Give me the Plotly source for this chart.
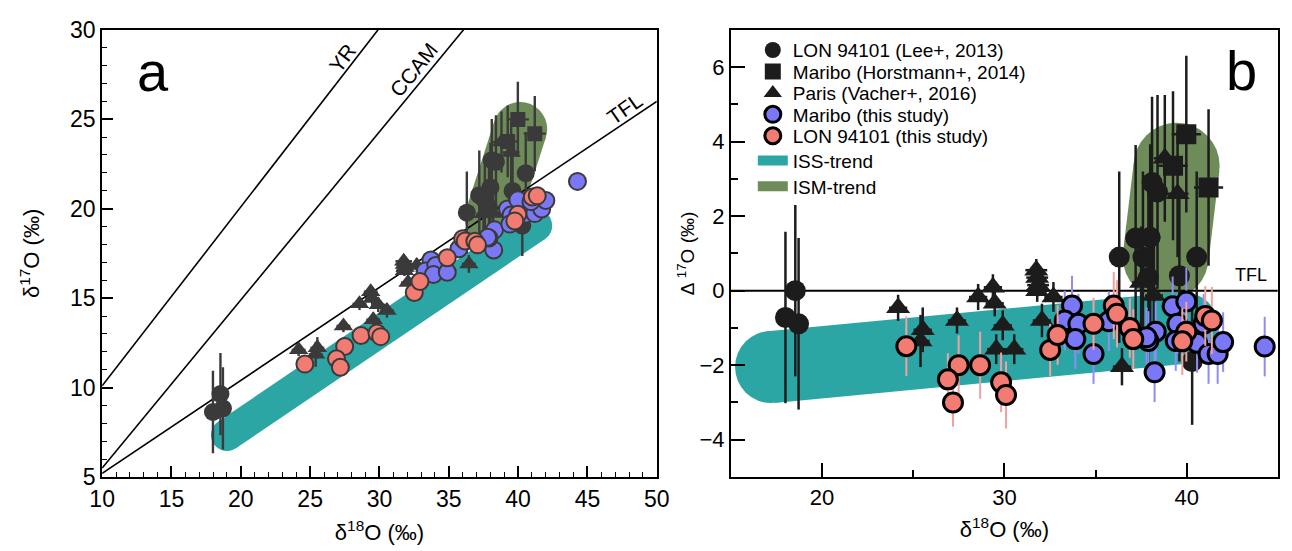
import plotly.graph_objects as go

# ---------------- data ----------------
# delta18O (permil) and Delta17O (permil) for each dataset
lee_d18 = [17.99, 18.53, 18.71, 36.30, 37.20, 38.00, 38.10, 38.40, 40.55, 39.60, 37.60, 37.90, 40.30]
lee_D17 = [-0.72, 0.00, -0.89, 0.90, 1.41, 1.43, 2.90, 2.65, 0.90, 0.40, 0.90, 0.35, -1.90]
lee_D17_err = [2.3, 2.3, 2.3, 2.3, 2.5, 2.5, 2.3, 2.6, 2.3, 2.3, 2.3, 2.5, 1.7]
lee_d18_err = [0.5, 0.5, 0.5, 0.5, 0.5, 0.5, 0.5, 0.5, 0.5, 0.5, 0.5, 0.5, 0.5]

hor_d18 = [39.98, 41.20, 39.25]
hor_D17 = [4.20, 2.77, 3.35]
hor_D17_err = [2.1, 2.1, 2.0]
hor_d18_err = [0.8, 0.8, 0.8]

vac_d18 = [24.17, 25.52, 25.40, 27.40, 28.56, 29.37, 29.47, 29.91, 29.55, 30.54,
           31.75, 31.80, 31.85, 31.80, 32.69, 32.06, 36.45, 38.80, 39.50, 37.50, 38.20]
vac_D17 = [-0.46, -1.05, -1.35, -0.80, -0.17, 0.09, -0.34, -0.93, -1.57, -1.57,
           0.55, 0.35, 0.15, 0.00, -0.17, -0.80, -2.04, 3.55, 2.60, 0.22, -0.13]
vac_D17_err = [0.35, 0.6, 0.7, 0.35, 0.35, 0.35, 0.35, 0.4, 0.4, 0.4,
               0.3, 0.3, 0.3, 0.3, 0.4, 0.45, 0.5, 1.7, 1.7, 1.5, 1.5]
vac_d18_err = [0.5, 0.5, 0.5, 0.5, 0.5, 0.5, 0.5, 0.5, 0.5, 0.5,
               0.6, 0.6, 0.6, 0.6, 0.5, 0.5, 0.5, 0.6, 0.6, 0.5, 0.5]

mar_d18 = [33.71, 33.31, 34.06, 33.89, 34.89, 35.73, 38.30, 38.24, 37.90, 39.23,
           39.98, 39.49, 39.40, 37.80, 40.57, 41.20, 41.70, 42.00, 44.28, 40.93]
mar_D17 = [-0.40, -0.80, -0.89, -1.30, -1.70, -0.82, -1.10, -2.19, -1.35, -0.42,
           -0.29, -0.89, -1.35, -1.25, -1.40, -1.70, -1.70, -1.38, -1.50, -0.89]
mar_D17_err = [0.8, 0.8, 0.8, 0.8, 0.8, 0.8, 0.8, 0.8, 0.8, 0.8,
               0.9, 0.8, 0.8, 0.8, 0.8, 0.8, 0.8, 0.8, 0.8, 0.8]

lon_d18 = [24.62, 27.49, 26.90, 27.18, 28.67, 29.82, 30.09, 32.51, 32.92, 34.89,
           36.00, 36.18, 36.88, 37.07, 39.98, 39.76, 41.02, 41.38]
lon_D17 = [-1.49, -2.00, -2.38, -3.00, -2.00, -2.46, -2.80, -1.59, -1.19, -0.89,
           -0.40, -0.62, -1.00, -1.30, -1.10, -1.36, -0.68, -0.80]
lon_D17_err = [0.8, 0.8, 0.7, 0.65, 0.9, 0.8, 0.9, 0.7, 0.8, 0.7,
               0.9, 0.9, 0.8, 0.8, 0.8, 0.9, 0.8, 0.9]

# trend bands (centre-line end points)
iss_a_x = [19.0, 41.3]
iss_a_y = [7.35, 19.05]
ism_a_x = [38.1, 40.15]
ism_a_y = [19.5, 24.45]
iss_b_x = [17.2, 39.8]
iss_b_y = [-2.05, -1.0]
ism_b_x = [38.85, 39.45]
ism_b_y = [0.9, 3.35]

# reference lines in the three-isotope plot
ref_names = ["YR", "CCAM", "TFL"]
ref_slopes = [1.0, 0.94, 0.52]
ref_intercepts = [0.1, -3.9, 0.0]

TFL_SLOPE = 0.52


def d17(d18, D17):
    return [D + TFL_SLOPE * x for x, D in zip(d18, D17)]


TEAL = "#2ca5a5"
GREEN = "#6e8c59"
BLUE = "#7b78f7"
RED = "#f27b72"
DARK_A = "#3a3a3a"
DARK_B = "#1c1c1c"
FONT = "Liberation Sans, Arial, sans-serif"

fig = go.Figure()


def band(xs, ys, width, color, xa, ya):
    fig.add_trace(go.Scatter(x=xs, y=ys, mode="lines", line=dict(color=color, width=width),
                             showlegend=False, hoverinfo="skip", xaxis=xa, yaxis=ya))
    fig.add_trace(go.Scatter(x=xs, y=ys, mode="markers",
                             marker=dict(color=color, size=width, line=dict(width=0)),
                             showlegend=False, hoverinfo="skip", xaxis=xa, yaxis=ya))


# ---------------- panel a ----------------
band(ism_a_x, ism_a_y, 54, GREEN, "x", "y")
band(iss_a_x, iss_a_y, 32, TEAL, "x", "y")

for name, m, b in zip(ref_names, ref_slopes, ref_intercepts):
    x_end = min(50.0, (30.0 - b) / m)
    fig.add_trace(go.Scatter(x=[10.0, x_end], y=[m * 10.0 + b, m * x_end + b], mode="lines",
                             line=dict(color="black", width=1.6), showlegend=False,
                             hoverinfo="skip", xaxis="x", yaxis="y"))

black_sets = [
    (lee_d18, lee_D17, lee_D17_err, lee_d18_err, "circle", 18, 21, "LON 94101 (Lee+, 2013)", "legend"),
    (hor_d18, hor_D17, hor_D17_err, hor_d18_err, "square", 15, 20, "Maribo (Horstmann+, 2014)", "legend2"),
    (vac_d18, vac_D17, vac_D17_err, vac_d18_err, "triangle-up", 17, 21, "Paris (Vacher+, 2016)", "legend3"),
]

for xs, Ds, yerr, xerr, sym, sa, sb, name, lg in black_sets:
    fig.add_trace(go.Scatter(
        x=xs, y=d17(xs, Ds), mode="markers",
        marker=dict(symbol=sym, size=sa, color=DARK_A, line=dict(width=0)),
        error_y=dict(type="data", array=yerr, color=DARK_A, thickness=2.4, width=0),
        error_x=dict(type="data", array=xerr, color=DARK_A, thickness=2.4, width=0),
        showlegend=False, xaxis="x", yaxis="y", name=name))

fig.add_trace(go.Scatter(
    x=mar_d18, y=d17(mar_d18, mar_D17), mode="markers",
    marker=dict(symbol="circle", size=17, color=BLUE, line=dict(color=DARK_A, width=2)),
    showlegend=False, xaxis="x", yaxis="y", name="Maribo (this study)"))
fig.add_trace(go.Scatter(
    x=lon_d18, y=d17(lon_d18, lon_D17), mode="markers",
    marker=dict(symbol="circle", size=17, color=RED, line=dict(color=DARK_A, width=2)),
    showlegend=False, xaxis="x", yaxis="y", name="LON 94101 (this study)"))

# ---------------- panel b ----------------
band(ism_b_x, ism_b_y, 86, GREEN, "x2", "y2")
band(iss_b_x, iss_b_y, 72, TEAL, "x2", "y2")

fig.add_trace(go.Scatter(x=[15, 45], y=[0, 0], mode="lines", line=dict(color="black", width=2),
                         showlegend=False, hoverinfo="skip", xaxis="x2", yaxis="y2"))

for xs, Ds, yerr, xerr, sym, sa, sb, name, lg in black_sets:
    fig.add_trace(go.Scatter(
        x=xs, y=Ds, mode="markers", name=name, legend=lg,
        marker=dict(symbol=sym, size=sb, color=DARK_B, line=dict(width=0)),
        error_y=dict(type="data", array=yerr, color=DARK_B, thickness=2.5, width=0),
        error_x=dict(type="data", array=xerr, color=DARK_B, thickness=2.5, width=0),
        showlegend=True, xaxis="x2", yaxis="y2"))

fig.add_trace(go.Scatter(
    x=mar_d18, y=mar_D17, mode="markers", name="Maribo (this study)", legend="legend4",
    marker=dict(symbol="circle", size=19, color=BLUE, line=dict(color="black", width=3)),
    error_y=dict(type="data", array=mar_D17_err, color="#8f8cf6", thickness=2, width=0),
    showlegend=True, xaxis="x2", yaxis="y2"))
fig.add_trace(go.Scatter(
    x=lon_d18, y=lon_D17, mode="markers", name="LON 94101 (this study)", legend="legend5",
    marker=dict(symbol="circle", size=19, color=RED, line=dict(color="black", width=3)),
    error_y=dict(type="data", array=lon_D17_err, color="#f2a0a0", thickness=2, width=0),
    showlegend=True, xaxis="x2", yaxis="y2"))

# legend-only entries for the trends
fig.add_trace(go.Scatter(x=[None], y=[None], mode="lines", name="ISS-trend", legend="legend6",
                         line=dict(color=TEAL, width=12), xaxis="x2", yaxis="y2"))
fig.add_trace(go.Scatter(x=[None], y=[None], mode="lines", name="ISM-trend", legend="legend7",
                         line=dict(color=GREEN, width=12), xaxis="x2", yaxis="y2"))

# ---------------- layout ----------------
W, H = 1292, 551
ax_a = dict(l=91, r=657)
ax_b = dict(l=732.7, r=1290.8)
y_dom = [(H - 487.0) / H, (H - 17.6) / H]

common = dict(showgrid=False, zeroline=False, showline=True, linecolor="black", linewidth=2,
              mirror=True, ticks="inside", tickcolor="black", tickwidth=1.5,
              tickfont=dict(family=FONT, size=23, color="black"))

legend_rows = [39.0, 61.5, 84.0, 106.5, 129.0, 155.0, 182.0]
legend_keys = ["legend", "legend2", "legend3", "legend4", "legend5", "legend6", "legend7"]

layout = dict(
    width=W, height=H,
    margin=dict(l=0, r=0, t=0, b=0),
    paper_bgcolor="white", plot_bgcolor="white",
    font=dict(family=FONT, color="black"),
    xaxis=dict(common, domain=[ax_a["l"] / W, ax_a["r"] / W], range=[10, 50], tick0=10, dtick=5,
               ticklen=11, minor=dict(dtick=1, ticks="inside", ticklen=5, tickwidth=1.3, tickcolor="black"),
               title=dict(text="δ<sup>18</sup>O (‰)", font=dict(size=22), standoff=14),
               anchor="y"),
    yaxis=dict(common, domain=y_dom, range=[5, 30], tick0=5, dtick=5, ticklen=11,
               minor=dict(dtick=1, ticks="inside", ticklen=5, tickwidth=1.3, tickcolor="black"),
               title=dict(text="δ<sup>17</sup>O (‰)", font=dict(size=22), standoff=24),
               anchor="x"),
    xaxis2=dict(common, domain=[ax_b["l"] / W, ax_b["r"] / W], range=[15, 45], tick0=0, dtick=10,
                ticklen=14, tickfont=dict(family=FONT, size=22, color="black"),
                minor=dict(dtick=5, ticks="inside", ticklen=7, tickwidth=1.5, tickcolor="black"),
                title=dict(text="δ<sup>18</sup>O (‰)", font=dict(size=22), standoff=12),
                anchor="y2"),
    yaxis2=dict(common, domain=y_dom, range=[-5, 7], tick0=0, dtick=2, ticklen=14,
                tickfont=dict(family=FONT, size=22, color="black"),
                minor=dict(dtick=1, ticks="inside", ticklen=7, tickwidth=1.5, tickcolor="black"),
                title=dict(text="Δ <sup>17</sup>O (‰)", font=dict(size=19), standoff=0),
                anchor="x2"),
    annotations=[
        dict(text="a", x=13.7, y=27.65, xref="x", yref="y", showarrow=False,
             font=dict(size=56, family=FONT)),
        dict(text="b", x=43.0, y=5.9, xref="x2", yref="y2", showarrow=False,
             font=dict(size=56, family=FONT)),
        dict(text="YR", x=27.3, y=28.4, xref="x", yref="y", showarrow=False, textangle=-53,
             font=dict(size=21, family=FONT)),
        dict(text="CCAM", x=32.5, y=27.76, xref="x", yref="y", showarrow=False, textangle=-51,
             font=dict(size=21, family=FONT)),
        dict(text="TFL", x=47.7, y=25.6, xref="x", yref="y", showarrow=False, textangle=-35,
             font=dict(size=21, family=FONT)),
        dict(text="TFL", x=43.55, y=0.43, xref="x2", yref="y2", showarrow=False,
             font=dict(size=18, family=FONT)),
    ],
)

for key, row in zip(legend_keys, legend_rows):
    layout[key] = dict(x=755 / W, y=1 - row / H, xanchor="left", yanchor="middle",
                       bgcolor="rgba(0,0,0,0)", borderwidth=0,
                       font=dict(family=FONT, size=19, color="black"))

fig.update_layout(**layout)

fig.write_html("out.html", config={"displayModeBar": False},
               post_script="document.body.style.margin='0';")
